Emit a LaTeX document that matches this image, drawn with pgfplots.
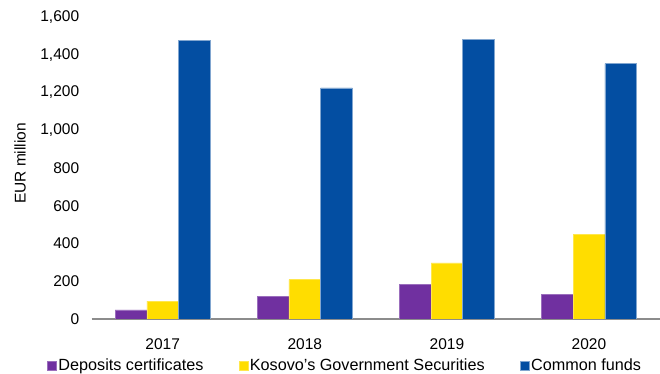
\documentclass[border=0pt]{standalone}
\usepackage{pgfplots}
\pgfplotsset{compat=1.18}
\usepackage{fontspec}
\setmainfont{Liberation Sans}
\definecolor{cpurple}{HTML}{7030A0}
\definecolor{cyellow}{HTML}{FFDD00}
\definecolor{cblue}{HTML}{034EA2}
\definecolor{axgrey}{HTML}{8C8C8C}
\begin{document}
\begin{tikzpicture}
\path[use as bounding box] (-91.7pt,-55pt) rectangle (568.3pt,319pt);
\begin{axis}[
  scale only axis,
  width=568.3pt, height=302pt,
  xmin=-0.5, xmax=3.5,
  ymin=0, ymax=1600,
  ybar=0pt, bar width=31.7pt,
  axis x line*=bottom,
  axis y line*=left,
  y axis line style={draw=none},
  x axis line style={draw=axgrey, line width=1.3pt},
  ytick={0,200,...,1600},
  ytick style={draw=none},
  yticklabel style={font=\fontsize{15.5}{18}\selectfont, xshift=-9pt},
  /pgf/number format/.cd, 1000 sep={,}, assume math mode=true, /pgfplots/.cd,
  xtick={0,1,2,3},
  xticklabels={2017,2018,2019,2020},
  major x tick style={draw=none},
  xticklabel style={font=\fontsize{15.5}{18}\selectfont, yshift=-12pt},
  extra x ticks={-0.5,0.5,1.5,2.5,3.5},
  extra x tick labels={},
  extra x tick style={tick align=outside, major tick length=5pt, tick style={draw=axgrey, line width=1.3pt}},
  ylabel={EUR million},
  ylabel style={at={(axis description cs:-0.1262,0.515)}, anchor=center, font=\fontsize{15.5}{18}\selectfont},
  legend columns=3,
  legend style={draw=none, at={(axis description cs:0.4457,-0.155)}, anchor=center,
    font=\fontsize{16.2}{18}\selectfont, nodes={inner sep=1.5pt},
    /tikz/every even column/.append style={column sep=34pt}},
  legend image code/.code={\fill[#1] (0pt,-4.5pt) rectangle (9pt,4.5pt);},
]
\addplot[fill=cpurple, draw=cpurple!70!white, line width=0.5pt] coordinates {(0,49) (1,120) (2,185) (3,129)};
\addplot[fill=cyellow, draw=cyellow!70!white, line width=0.5pt] coordinates {(0,95) (1,208) (2,297) (3,450)};
\addplot[fill=cblue, draw=cblue!50!white, line width=0.5pt] coordinates {(0,1478) (1,1225) (2,1482) (3,1353)};
\legend{Deposits certificates, Kosovo’s Government Securities, Common funds}
\end{axis}
\end{tikzpicture}
\end{document}
